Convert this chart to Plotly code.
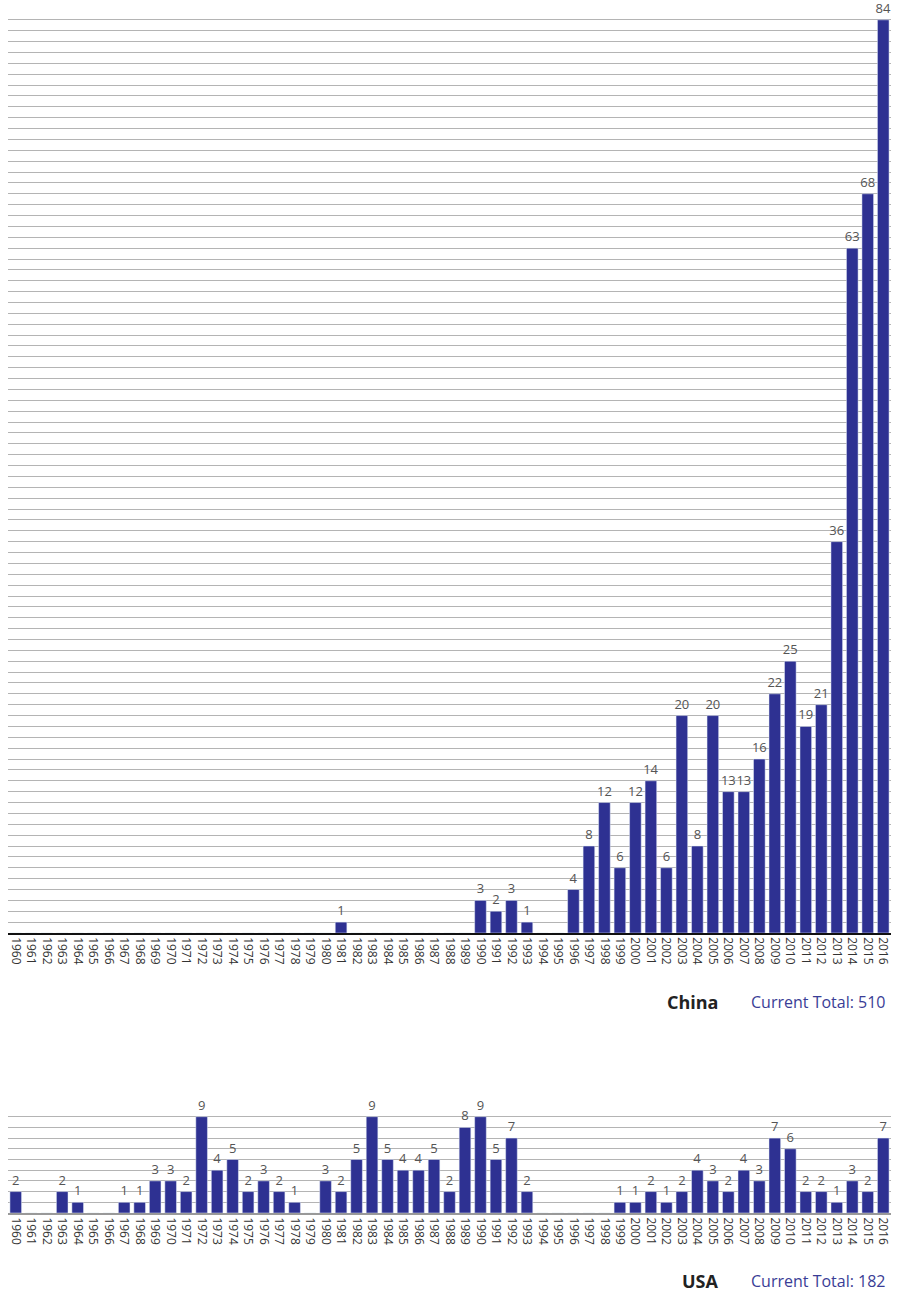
import plotly.graph_objects as go

years = [str(y) for y in range(1960, 2017)]

china = [0, 0, 0, 0, 0, 0, 0, 0, 0, 0,
         0, 0, 0, 0, 0, 0, 0, 0, 0, 0,
         0, 1, 0, 0, 0, 0, 0, 0, 0, 0,
         3, 2, 3, 1, 0, 0, 4, 8, 12, 6,
         12, 14, 6, 20, 8, 20, 13, 13, 16, 22,
         25, 19, 21, 36, 63, 68, 84]

usa = [2, 0, 0, 2, 1, 0, 0, 1, 1, 3,
       3, 2, 9, 4, 5, 2, 3, 2, 1, 0,
       3, 2, 5, 9, 5, 4, 4, 5, 2, 8,
       9, 5, 7, 2, 0, 0, 0, 0, 0, 1,
       1, 2, 1, 2, 4, 3, 2, 4, 3, 7,
       6, 2, 2, 1, 3, 2, 7]

china_title = "China"
china_total = "Current Total: 510"
usa_title = "USA"
usa_total = "Current Total: 182"

BAR = "#2E3192"
W, H = 898, 1292
FONT = "Open Sans"

def labels(vals):
    return [str(v) if v else "" for v in vals]

fig = go.Figure()
fig.add_trace(go.Bar(x=years, y=china, marker_color=BAR, text=labels(china),
                     textposition="outside", constraintext="none", cliponaxis=False,
                     textfont=dict(color="#555555", size=13, family=FONT),
                     xaxis="x", yaxis="y", hoverinfo="skip"))
fig.add_trace(go.Bar(x=years, y=usa, marker_color=BAR, text=labels(usa),
                     textposition="outside", constraintext="none", cliponaxis=False,
                     textfont=dict(color="#555555", size=13, family=FONT),
                     xaxis="x2", yaxis="y2", hoverinfo="skip"))

xdom = [8 / W, 891 / W]
def ydom(top_px, bottom_px):
    return [1 - bottom_px / H, 1 - top_px / H]

axis_common = dict(type="category", tickangle=90, ticks="", showgrid=False,
                   tickfont=dict(size=12, color="#333333", family=FONT), showline=True)

fig.update_layout(
    width=W, height=H, margin=dict(l=0, r=0, t=0, b=0),
    paper_bgcolor="white", plot_bgcolor="white",
    showlegend=False, bargap=0.25,
    font=dict(family=FONT),
    xaxis=dict(domain=xdom, anchor="y", linecolor="#111111", linewidth=1.5, **axis_common),
    yaxis=dict(domain=ydom(9, 933), range=[0, 85], dtick=1, showticklabels=False,
               gridcolor="#b4b4b4", gridwidth=1.2, zeroline=False),
    xaxis2=dict(domain=xdom, anchor="y2", linecolor="#999999", linewidth=2, **axis_common),
    yaxis2=dict(domain=ydom(1106, 1213), range=[0, 10], dtick=1, showticklabels=False,
                gridcolor="#b4b4b4", gridwidth=1.2, zeroline=False),
    annotations=[
        dict(text="<b>" + china_title + "</b>", xref="paper", yref="paper",
             x=721 / W, y=1 - 1002 / H, xanchor="right", yanchor="middle", showarrow=False,
             font=dict(size=18, color="#222222", family=FONT)),
        dict(text=china_total, xref="paper", yref="paper",
             x=888 / W, y=1 - 1002 / H, xanchor="right", yanchor="middle", showarrow=False,
             font=dict(size=16, color="#3a3d96", family=FONT)),
        dict(text="<b>" + usa_title + "</b>", xref="paper", yref="paper",
             x=721 / W, y=1 - 1281 / H, xanchor="right", yanchor="middle", showarrow=False,
             font=dict(size=18, color="#222222", family=FONT)),
        dict(text=usa_total, xref="paper", yref="paper",
             x=888 / W, y=1 - 1281 / H, xanchor="right", yanchor="middle", showarrow=False,
             font=dict(size=16, color="#3a3d96", family=FONT)),
    ],
)

fig.write_html("out.html")
